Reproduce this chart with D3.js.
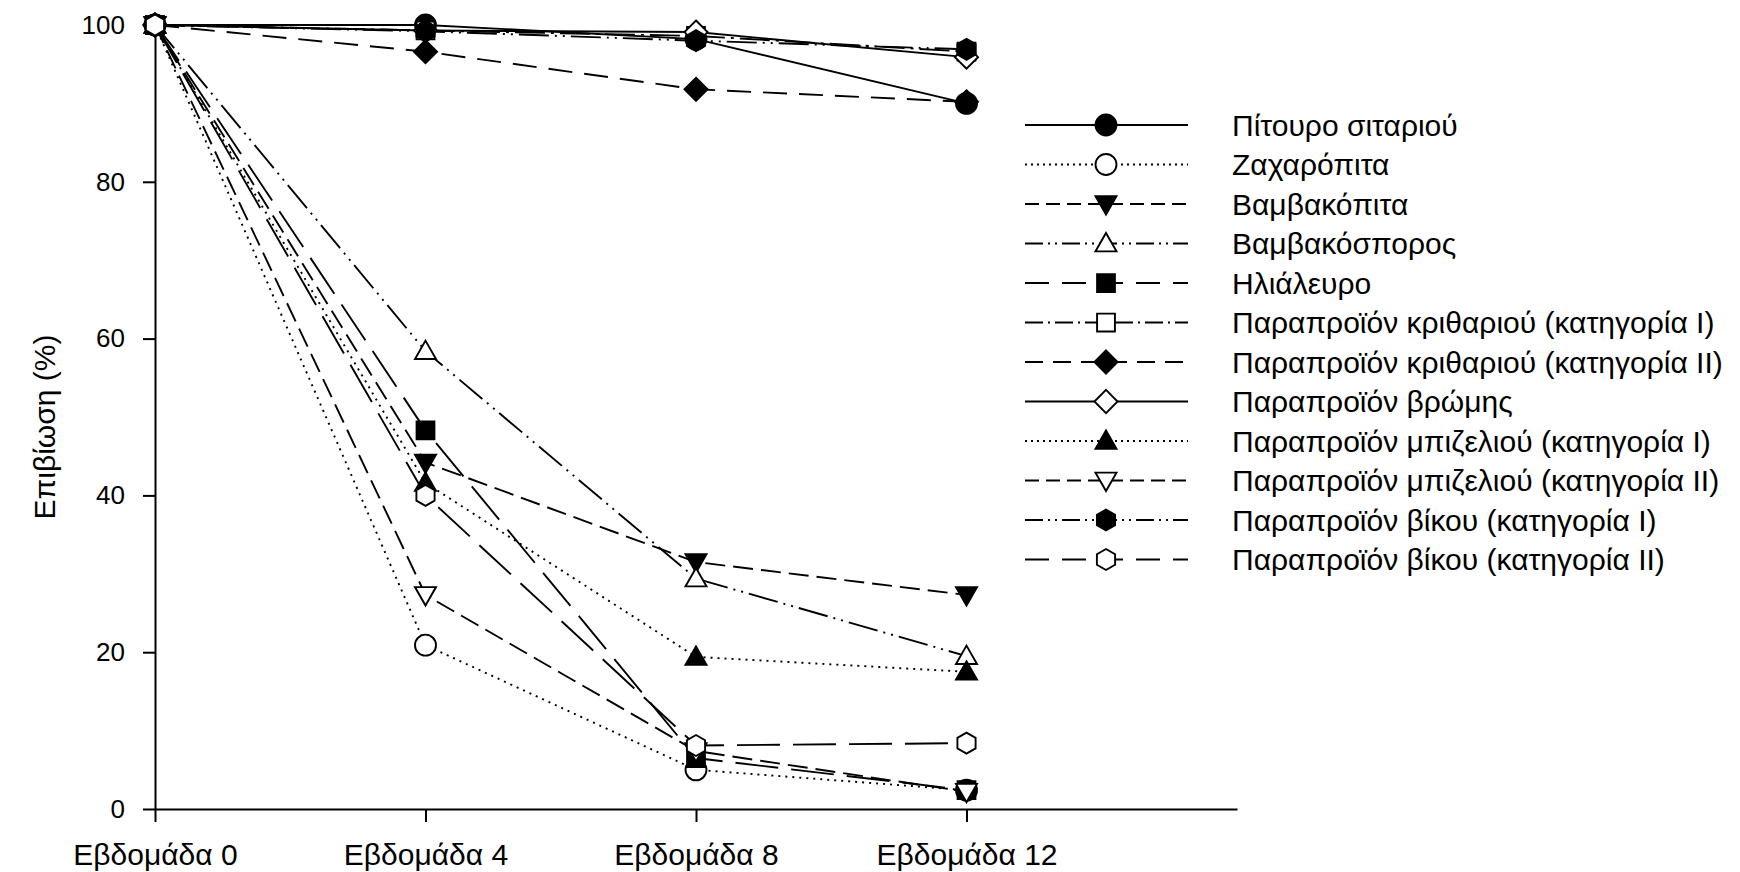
<!DOCTYPE html>
<html lang="el">
<head>
<meta charset="UTF-8">
<title>Επιβίωση</title>
<style>
  body { margin: 0; background: #fff; }
  svg { display: block; font-family: "Liberation Sans", Arial, sans-serif; }
</style>
</head>
<body>
<svg id="svg"></svg>
<script src="https://d3js.org/d3.v7.min.js"></script>
<script>
// data
const weeks = [0, 4, 8, 12];
const weekLabels = ["Εβδομάδα 0", "Εβδομάδα 4", "Εβδομάδα 8", "Εβδομάδα 12"];
const yTicks = [0, 20, 40, 60, 80, 100];
const yTitle = "Επιβίωση (%)";

const seriesNames = [
  "Πίτουρο σιταριού",
  "Ζαχαρόπιτα",
  "Βαμβακόπιτα",
  "Βαμβακόσπορος",
  "Ηλιάλευρο",
  "Παραπροϊόν κριθαριού (κατηγορία Ι)",
  "Παραπροϊόν κριθαριού (κατηγορία ΙΙ)",
  "Παραπροϊόν βρώμης",
  "Παραπροϊόν μπιζελιού (κατηγορία Ι)",
  "Παραπροϊόν μπιζελιού (κατηγορία ΙΙ)",
  "Παραπροϊόν βίκου (κατηγορία Ι)",
  "Παραπροϊόν βίκου (κατηγορία ΙΙ)"
];

const pitouro      = [100, 100, 98.2, 90];
const zaxaropita   = [100, 20.9, 5.0, 2.4];
const vamvakopita  = [100, 44.2, 31.5, 27.3];
const vamvakosporos= [100, 58.4, 29.4, 19.5];
const ilialevro    = [100, 48.3, 6.5, 2.4];
const krithariI    = [100, 99.3, 98.6, 96.6];
const krithariII   = [100, 96.6, 91.8, 90.2];
const vromi        = [100, 99.3, 99.1, 95.9];
const mpizeliI     = [100, 41.6, 19.4, 17.5];
const mpizeliII    = [100, 27.3, 7.4, 2.2];
const vikouI       = [100, 99.2, 98.0, 96.9];
const vikouII      = [100, 40.0, 8.1, 8.4];

const seriesValues = [pitouro, zaxaropita, vamvakopita, vamvakosporos, ilialevro,
  krithariI, krithariII, vromi, mpizeliI, mpizeliII, vikouI, vikouII];

// marker shapes (size = half width)
const shapes = {
  circle: { draw(c, r) { c.moveTo(r, 0); c.arc(0, 0, r, 0, 2 * Math.PI); c.closePath(); } },
  square: { draw(c, r) { const s = r * 0.85; c.rect(-s, -s, 2 * s, 2 * s); } },
  triUp: { draw(c, r) { c.moveTo(0, -r); c.lineTo(r, r * 0.75); c.lineTo(-r, r * 0.75); c.closePath(); } },
  triDown: { draw(c, r) { c.moveTo(0, r); c.lineTo(r, -r * 0.75); c.lineTo(-r, -r * 0.75); c.closePath(); } },
  diamond: { draw(c, r) { const s = r * 1.1; c.moveTo(0, -s); c.lineTo(s, 0); c.lineTo(0, s); c.lineTo(-s, 0); c.closePath(); } },
  hexagon: { draw(c, r) {
    for (let k = 0; k < 6; k++) {
      const a = -Math.PI / 2 + k * Math.PI / 3;
      const px = r * Math.cos(a), py = r * Math.sin(a);
      k ? c.lineTo(px, py) : c.moveTo(px, py);
    }
    c.closePath();
  } }
};

// line / marker styles per series
const styles = [
  { shape: "circle",  fill: true,  dash: null,               legDash: null },
  { shape: "circle",  fill: false, dash: "2,5",              legDash: "2,4" },
  { shape: "triDown", fill: true,  dash: "20,8",             legDash: "14,7" },
  { shape: "triUp",   fill: false, dash: "30,6,2,6,2,6",     legDash: "18,5,2,5,2,5" },
  { shape: "square",  fill: true,  dash: "43,13",            legDash: "24,13" },
  { shape: "square",  fill: false, dash: "30,6,3,6",         legDash: "18,5,2,5" },
  { shape: "diamond", fill: true,  dash: "24,12",            legDash: "18,10" },
  { shape: "diamond", fill: false, dash: null,               legDash: null },
  { shape: "triUp",   fill: true,  dash: "2,5",              legDash: "2,4" },
  { shape: "triDown", fill: false, dash: "20,8",             legDash: "14,7" },
  { shape: "hexagon", fill: true,  dash: "30,6,2,6,2,6",     legDash: "18,5,2,5,2,5" },
  { shape: "hexagon", fill: false, dash: "43,13",            legDash: "24,13" }
];

const width = 1740, height = 872;
const svg = d3.select("#svg").attr("width", width).attr("height", height);

const x = d3.scaleLinear().domain([0, 16]).range([155, 1237]);
const y = d3.scaleLinear().domain([0, 100]).range([809, 25]);

// axes
const yAxis = svg.append("g")
  .attr("transform", `translate(${x(0)},0)`)
  .call(d3.axisLeft(y).tickValues(yTicks).tickSize(12).tickSizeOuter(0).tickPadding(18));
const xAxis = svg.append("g")
  .attr("transform", `translate(0,${y(0)})`)
  .call(d3.axisBottom(x).tickValues(weeks).tickFormat((d, i) => weekLabels[i])
    .tickSize(13).tickSizeOuter(0).tickPadding(22));

[xAxis, yAxis].forEach(a => {
  a.selectAll("path, line").attr("stroke", "#000").attr("stroke-width", 2);
  a.selectAll("text").attr("fill", "#000").style("font-family", "Liberation Sans, Arial, sans-serif");
});
yAxis.selectAll("text").attr("font-size", 26);
xAxis.selectAll("text").attr("font-size", 30);

svg.append("text")
  .attr("transform", `translate(44,427) rotate(-90)`)
  .attr("text-anchor", "middle")
  .attr("dy", "0.35em")
  .attr("font-size", 30)
  .text(yTitle);

// lines
const line = d3.line().x((d, i) => x(weeks[i])).y(d => y(d));
const plot = svg.append("g");
seriesValues.forEach((vals, s) => {
  plot.append("path")
    .datum(vals)
    .attr("d", line)
    .attr("fill", "none")
    .attr("stroke", "#000")
    .attr("stroke-width", 1.9)
    .attr("stroke-dasharray", styles[s].dash);
});

// markers
const symbol = d3.symbol();
seriesValues.forEach((vals, s) => {
  const st = styles[s];
  plot.append("g").selectAll("path")
    .data(vals)
    .join("path")
    .attr("transform", (d, i) => `translate(${x(weeks[i])},${y(d)})`)
    .attr("d", symbol.type(shapes[st.shape]).size(10.5)())
    .attr("fill", st.fill ? "#000" : "#fff")
    .attr("stroke", "#000")
    .attr("stroke-width", 1.9);
});

// legend
const legend = svg.append("g");
const legX0 = 1025, legX1 = 1188, legSym = 1106, legText = 1232;
const legY0 = 125, legStep = 39.5;
seriesNames.forEach((name, s) => {
  const st = styles[s];
  const ly = legY0 + s * legStep;
  legend.append("line")
    .attr("x1", legX0).attr("x2", legX1).attr("y1", ly).attr("y2", ly)
    .attr("stroke", "#000").attr("stroke-width", 1.9)
    .attr("stroke-dasharray", st.legDash);
  legend.append("path")
    .attr("transform", `translate(${legSym},${ly})`)
    .attr("d", symbol.type(shapes[st.shape]).size(10.5)())
    .attr("fill", st.fill ? "#000" : "#fff")
    .attr("stroke", "#000").attr("stroke-width", 1.9);
  legend.append("text")
    .attr("x", legText).attr("y", ly).attr("dy", "0.35em")
    .attr("font-size", 30)
    .text(name);
});
</script>
</body>
</html>
